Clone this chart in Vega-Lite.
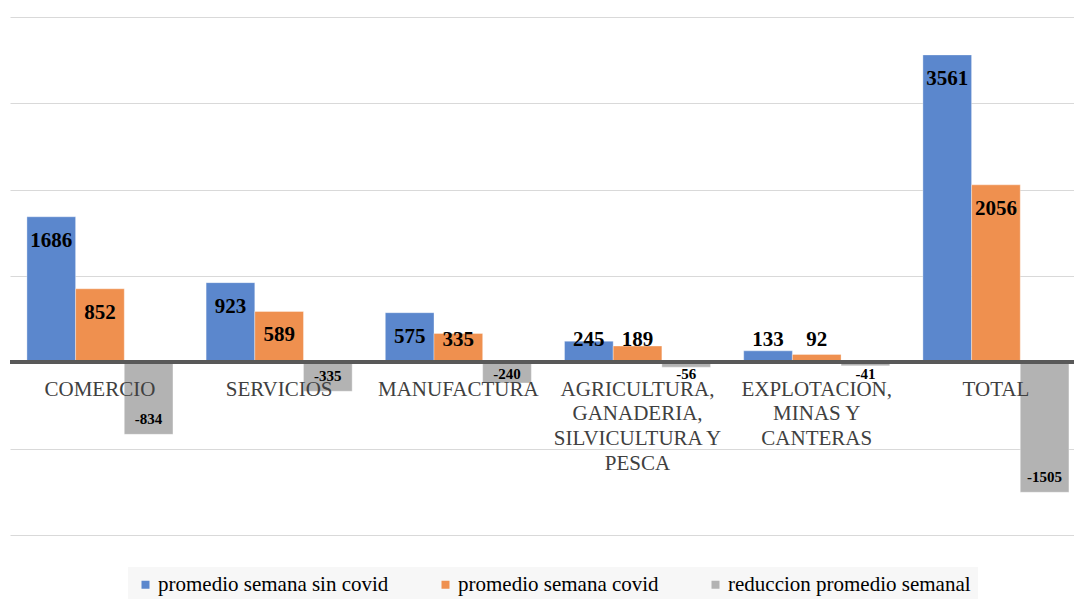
{
  "$schema": "https://vega.github.io/schema/vega-lite/v6.json",
  "autosize": {"type": "none"},
  "padding": {"left": 10, "top": 17, "right": 0, "bottom": 64},
  "width": 1064,
  "height": 518,
  "background": "white",
  "config": {
    "view": {"stroke": null},
    "font": "Liberation Serif",
    "legend": {"labelFont": "Liberation Serif"},
    "style": {"guide-label": {"font": "Liberation Serif"}}
  },
  "data": {"values": [
    {"categoria": "COMERCIO", "serie": "promedio semana sin covid", "valor": 1686},
    {"categoria": "COMERCIO", "serie": "promedio semana covid", "valor": 852},
    {"categoria": "COMERCIO", "serie": "reduccion promedio semanal", "valor": -834},
    {"categoria": "SERVICIOS", "serie": "promedio semana sin covid", "valor": 923},
    {"categoria": "SERVICIOS", "serie": "promedio semana covid", "valor": 589},
    {"categoria": "SERVICIOS", "serie": "reduccion promedio semanal", "valor": -335},
    {"categoria": "MANUFACTURA", "serie": "promedio semana sin covid", "valor": 575},
    {"categoria": "MANUFACTURA", "serie": "promedio semana covid", "valor": 335},
    {"categoria": "MANUFACTURA", "serie": "reduccion promedio semanal", "valor": -240},
    {"categoria": "AGRICULTURA, GANADERIA, SILVICULTURA Y PESCA", "serie": "promedio semana sin covid", "valor": 245},
    {"categoria": "AGRICULTURA, GANADERIA, SILVICULTURA Y PESCA", "serie": "promedio semana covid", "valor": 189},
    {"categoria": "AGRICULTURA, GANADERIA, SILVICULTURA Y PESCA", "serie": "reduccion promedio semanal", "valor": -56},
    {"categoria": "EXPLOTACION, MINAS Y CANTERAS", "serie": "promedio semana sin covid", "valor": 133},
    {"categoria": "EXPLOTACION, MINAS Y CANTERAS", "serie": "promedio semana covid", "valor": 92},
    {"categoria": "EXPLOTACION, MINAS Y CANTERAS", "serie": "reduccion promedio semanal", "valor": -41},
    {"categoria": "TOTAL", "serie": "promedio semana sin covid", "valor": 3561},
    {"categoria": "TOTAL", "serie": "promedio semana covid", "valor": 2056},
    {"categoria": "TOTAL", "serie": "reduccion promedio semanal", "valor": -1505}
  ]},
  "encoding": {
    "x": {
      "field": "categoria", "type": "nominal",
      "sort": ["COMERCIO", "SERVICIOS", "MANUFACTURA", "AGRICULTURA, GANADERIA, SILVICULTURA Y PESCA", "EXPLOTACION, MINAS Y CANTERAS", "TOTAL"],
      "scale": {"paddingInner": 0.185, "paddingOuter": 0.0613, "align": 0.77},
      "axis": {
        "title": null, "orient": "bottom", "offset": -173, "domain": false, "ticks": false,
        "labelAngle": 0, "labelFont": "Liberation Serif", "labelFontSize": 21, "labelColor": "#404040",
        "labelPadding": 16, "labelLimit": 0, "labelLineHeight": 24.7, "zindex": 1,
        "labelExpr": "datum.value == 'AGRICULTURA, GANADERIA, SILVICULTURA Y PESCA' ? ['AGRICULTURA,', 'GANADERIA,', 'SILVICULTURA Y', 'PESCA'] : datum.value == 'EXPLOTACION, MINAS Y CANTERAS' ? ['EXPLOTACION,', 'MINAS Y', 'CANTERAS'] : datum.value"
      }
    },
    "xOffset": {
      "field": "serie", "type": "nominal",
      "sort": ["promedio semana sin covid", "promedio semana covid", "reduccion promedio semanal"],
      "scale": {"paddingInner": 0, "paddingOuter": 0}
    }
  },
  "layer": [
    {
      "mark": {"type": "bar", "stroke": "#ffffff", "strokeOpacity": 0.35, "strokeWidth": 1},
      "encoding": {
        "y": {
          "field": "valor", "type": "quantitative",
          "scale": {"domain": [-2000, 4000], "nice": false},
          "axis": {"title": null, "domain": false, "ticks": false, "labels": false, "grid": true, "gridColor": "#d9d9d9", "gridWidth": 1, "values": [-2000, -1000, 0, 1000, 2000, 3000, 4000]}
        },
        "color": {
          "field": "serie", "type": "nominal",
          "scale": {"domain": ["promedio semana sin covid", "promedio semana covid", "reduccion promedio semanal"], "range": ["#5B87CD", "#EF904F", "#B3B3B3"]},
          "legend": {
            "title": null, "orient": "none", "legendX": 118, "legendY": 550, "direction": "horizontal", "columns": 3,
            "columnPadding": 46, "symbolType": "square", "symbolSize": 64, "symbolStrokeWidth": 0,
            "labelFont": "Liberation Serif", "labelFontSize": 21, "labelColor": "#000000", "labelOffset": 2, "labelLimit": 0,
            "fillColor": "#f7f7f7", "padding": 7,
            "encode": {"labels": {"update": {"font": {"value": "Liberation Serif"}}}}
          }
        }
      }
    },
    {
      "mark": {"type": "rule", "color": "#595959", "strokeWidth": 3},
      "encoding": {"y": {"datum": 0}, "x": null, "xOffset": null}
    },
    {
      "transform": [{"filter": "datum.valor >= 533"}],
      "mark": {"type": "text", "fontWeight": "bold", "fontSize": 21, "font": "Liberation Serif", "baseline": "middle", "dy": 24, "color": "#000000"},
      "encoding": {"y": {"field": "valor", "type": "quantitative"}, "text": {"field": "valor", "type": "nominal"}}
    },
    {
      "transform": [{"filter": "datum.valor > 0 && datum.valor < 533"}],
      "mark": {"type": "text", "fontWeight": "bold", "fontSize": 21, "font": "Liberation Serif", "baseline": "middle", "dy": -22, "color": "#000000"},
      "encoding": {"y": {"datum": 0}, "text": {"field": "valor", "type": "nominal"}}
    },
    {
      "transform": [{"filter": "datum.valor <= -313"}],
      "mark": {"type": "text", "fontWeight": "bold", "fontSize": 15, "font": "Liberation Serif", "baseline": "middle", "dy": -15, "color": "#000000"},
      "encoding": {"y": {"field": "valor", "type": "quantitative"}, "text": {"field": "valor", "type": "nominal"}}
    },
    {
      "transform": [{"filter": "datum.valor < 0 && datum.valor > -313"}],
      "mark": {"type": "text", "fontWeight": "bold", "fontSize": 15, "font": "Liberation Serif", "baseline": "middle", "dy": 12, "color": "#000000"},
      "encoding": {"y": {"datum": 0}, "text": {"field": "valor", "type": "nominal"}}
    }
  ]
}
